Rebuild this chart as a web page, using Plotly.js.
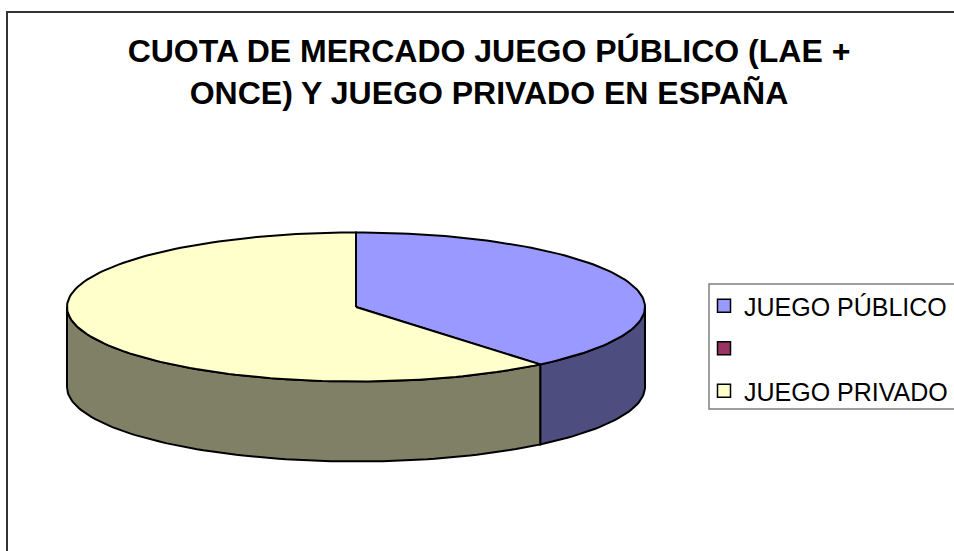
<!DOCTYPE html>
<html>
<head>
<meta charset="utf-8">
<script src="https://cdn.plot.ly/plotly-3.0.1.min.js"></script>
<style>html,body{margin:0;padding:0;background:#fff;}#chart{width:954px;height:551px;}</style>
</head>
<body>
<div id="chart"></div>
<script>
// ---- data ----
var categories = ['JUEGO PÚBLICO', '', 'JUEGO PRIVADO'];
var shareValues = [39, 0, 61];
var titleText = 'CUOTA DE MERCADO JUEGO PÚBLICO (LAE +<br>ONCE) Y JUEGO PRIVADO EN ESPAÑA';

// ---- style / geometry ----
var topColors = ['#9999FF', '#993366', '#FFFFCC'];
var sideColors = ['#4D4D80', '#4D1A33', '#808066'];
var CX = 356, CY = 307, RX = 289, RY = 74.5, DEPTH = 80;

function pt(tDeg, dy) {
  var t = tDeg * Math.PI / 180;
  return [CX + RX * Math.cos(t), CY - RY * Math.sin(t) + (dy || 0)];
}
function arcPts(t1, t2, dy) {
  var n = Math.max(2, Math.ceil(Math.abs(t2 - t1) / 1.5));
  var out = [];
  for (var i = 0; i <= n; i++) out.push(pt(t1 + (t2 - t1) * i / n, dy));
  return out;
}

var total = shareValues.reduce(function (a, b) { return a + b; }, 0);
var sideTraces = [], topTraces = [];
var start = 90;
categories.forEach(function (cat, i) {
  var v = shareValues[i];
  if (v <= 0) return;
  var end = start - 360 * v / total;
  var hi = Math.min(start, 0), lo = Math.max(end, -180);
  if (hi > lo) {
    var p = arcPts(hi, lo, 0).concat(arcPts(lo, hi, DEPTH));
    p.push(p[0]);
    sideTraces.push({
      type: 'scatter', mode: 'lines', fill: 'toself',
      x: p.map(function (q) { return q[0]; }), y: p.map(function (q) { return q[1]; }),
      fillcolor: sideColors[i], line: { color: '#000', width: 2 },
      hoverinfo: 'skip', showlegend: false
    });
  }
  var tp = [[CX, CY]].concat(arcPts(start, end, 0));
  tp.push([CX, CY]);
  topTraces.push({
    type: 'scatter', mode: 'lines', fill: 'toself',
    x: tp.map(function (q) { return q[0]; }), y: tp.map(function (q) { return q[1]; }),
    fillcolor: topColors[i], line: { color: '#000', width: 2 },
    hoverinfo: 'text', text: cat + ': ' + v, hoveron: 'fills', showlegend: false
  });
  start = end;
});

var legendTraces = categories.map(function (cat, i) {
  return {
    type: 'scatter', mode: 'markers', x: [null], y: [null],
    name: cat === '' ? ' ' : cat, legendgroup: 'g' + i,
    marker: { symbol: 'square', size: 13, color: topColors[i], line: { color: '#000', width: 1.5 } },
    hoverinfo: 'skip'
  };
});

var layout = {
  width: 954, height: 551,
  margin: { l: 0, r: 0, t: 0, b: 0 },
  paper_bgcolor: '#fff', plot_bgcolor: '#fff',
  xaxis: { range: [0, 954], visible: false, fixedrange: true },
  yaxis: { range: [551, 0], visible: false, fixedrange: true },
  title: {
    text: '<b>' + titleText + '</b>',
    font: { family: 'Liberation Sans, Arial, sans-serif', size: 32, color: '#000' },
    x: 489 / 954, xanchor: 'center', xref: 'paper',
    y: 1 - 62 / 551, yanchor: 'top', yref: 'container'
  },
  showlegend: true,
  legend: {
    x: 704 / 954, xanchor: 'left', y: 1 - 283 / 551, yanchor: 'top',
    font: { family: 'Liberation Sans, Arial, sans-serif', size: 25, color: '#000' },
    bgcolor: 'rgba(0,0,0,0)', borderwidth: 0, traceorder: 'grouped', tracegroupgap: 7
  },
  shapes: [
    { type: 'rect', xref: 'x', yref: 'y', x0: 7, x1: 1000, y0: 12, y1: 700, line: { color: '#333', width: 2 }, layer: 'below' },
    { type: 'rect', xref: 'x', yref: 'y', x0: 709, x1: 1000, y0: 284, y1: 409, line: { color: '#808080', width: 1.5 }, layer: 'below' }
  ]
};

Plotly.newPlot('chart', sideTraces.concat(topTraces).concat(legendTraces), layout, { displayModeBar: false });
</script>
</body>
</html>
